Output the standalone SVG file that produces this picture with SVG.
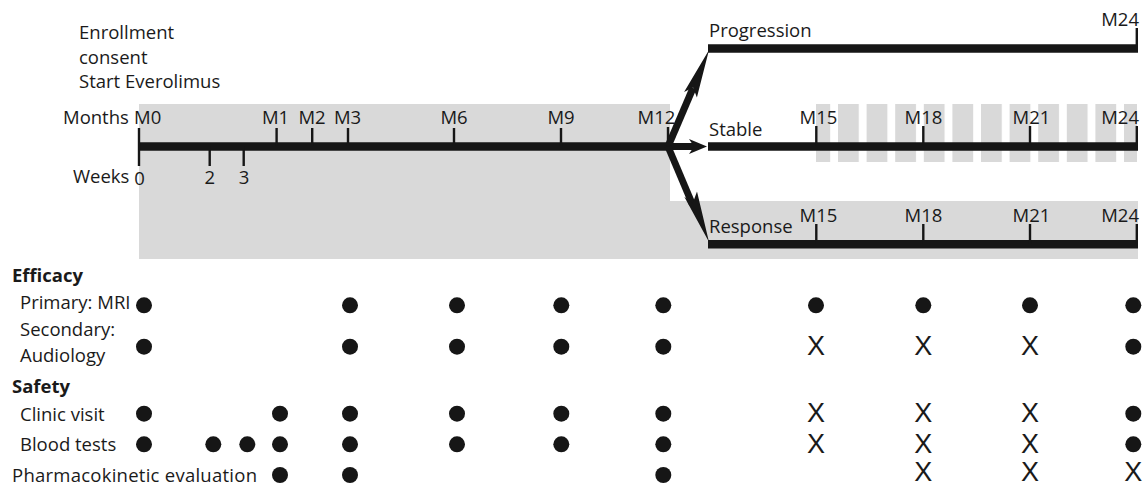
<svg xmlns="http://www.w3.org/2000/svg" width="1145" height="486" viewBox="0 0 1145 486">
  <style>
    text { font-family: "Open Sans", "Liberation Sans", sans-serif; font-size: 18.5px; fill: #1a1a1a; }
    .b { font-weight: bold; }
    .mid { text-anchor: middle; }
    .end { text-anchor: end; }
    .x { font-family: "Liberation Sans", Arial, sans-serif; font-size: 27px; text-anchor: middle; }
    .bar { stroke: #161616; stroke-width: 8.5; fill: none; }
    .tick { stroke: #161616; stroke-width: 2.4; fill: none; }
    .dot { fill: #161616; }
    .shade { fill: #d9d9d9; }
    .arrow { fill: #161616; }
    .shaft { stroke: #161616; stroke-width: 7; fill: none; }
  </style>
  <defs>
    <!-- vertical striped shading for the stable arm -->
    <pattern id="stripes" patternUnits="userSpaceOnUse" x="809.4" y="0" width="28.6" height="486">
      <rect x="0" y="0" width="20.8" height="486" class="shade"/>
    </pattern>
    <clipPath id="stableClip">
      <rect x="816" y="104" width="321" height="58"/>
    </clipPath>
  </defs>

  <rect width="1145" height="486" fill="#ffffff"/>

  <!-- shaded treatment period -->
  <g id="shading">
    <polygon class="shade" points="139,104 670,104 670,201 1138,201 1138,259 139,259"/>
    <rect x="816" y="104" width="321" height="58" fill="url(#stripes)" clip-path="url(#stableClip)"/>
  </g>

  <!-- enrollment note -->
  <g id="enrollment">
    <text x="79" y="39">Enrollment</text>
    <text x="79" y="63.5">consent</text>
    <text x="79" y="88">Start Everolimus</text>
  </g>

  <!-- main timeline M0 to M12 -->
  <g id="timeline">
    <line class="bar" x1="139" y1="146.5" x2="669" y2="146.5"/>
    <line class="tick" x1="139" y1="128" x2="139" y2="166"/>
    <line class="tick" x1="276.6" y1="128" x2="276.6" y2="146"/>
    <line class="tick" x1="312.2" y1="128" x2="312.2" y2="146"/>
    <line class="tick" x1="348" y1="128" x2="348" y2="146"/>
    <line class="tick" x1="454" y1="128" x2="454" y2="146"/>
    <line class="tick" x1="561" y1="128" x2="561" y2="146"/>
    <line class="tick" x1="668" y1="127" x2="668" y2="146"/>
    <line class="tick" x1="209.7" y1="146" x2="209.7" y2="166"/>
    <line class="tick" x1="243.7" y1="146" x2="243.7" y2="166"/>
    <text x="63" y="124">Months</text>
    <text x="134" y="124">M0</text>
    <text class="mid" x="275.5" y="124">M1</text>
    <text class="mid" x="312" y="124">M2</text>
    <text class="mid" x="347.5" y="124">M3</text>
    <text class="mid" x="454" y="124">M6</text>
    <text class="mid" x="561" y="124">M9</text>
    <text x="637.5" y="124">M12</text>
    <text x="73" y="182.5">Weeks</text>
    <text class="mid" x="139.5" y="184.5">0</text>
    <text class="mid" x="209.7" y="184">2</text>
    <text class="mid" x="244" y="184">3</text>
  </g>

  <!-- branch arrows at M12 -->
  <g id="connectors">
    <line class="shaft" x1="668" y1="146.5" x2="693" y2="88"/>
    <polygon class="arrow" points="709,50 696.9,97.6 693.1,87.6 684.1,92.0"/>
    <line class="shaft" x1="668" y1="146.5" x2="695" y2="146.5"/>
    <polygon class="arrow" points="707,146.5 689,154 694,146.5 689,139"/>
    <line class="shaft" x1="668" y1="146.5" x2="692.5" y2="204.5"/>
    <polygon class="arrow" points="709,242 684.3,196.8 692.7,203.3 697.0,191.4"/>
  </g>

  <!-- progression arm -->
  <g id="progression">
    <line class="bar" x1="708" y1="48.5" x2="1138" y2="48.5"/>
    <line class="tick" x1="1136.8" y1="28" x2="1136.8" y2="48"/>
    <text x="709" y="37">Progression</text>
    <text class="end" x="1139" y="26">M24</text>
  </g>

  <!-- stable arm -->
  <g id="stable">
    <line class="bar" x1="708" y1="146.5" x2="1138" y2="146.5"/>
    <line class="tick" x1="816.3" y1="126" x2="816.3" y2="146"/>
    <line class="tick" x1="923.3" y1="126" x2="923.3" y2="146"/>
    <line class="tick" x1="1030" y1="126" x2="1030" y2="146"/>
    <line class="tick" x1="1136.8" y1="126" x2="1136.8" y2="146"/>
    <text x="709" y="136">Stable</text>
    <text class="mid" x="818.5" y="124.3">M15</text>
    <text class="mid" x="923.5" y="124.3">M18</text>
    <text class="mid" x="1031.5" y="124.3">M21</text>
    <text class="end" x="1139" y="124.3">M24</text>
  </g>

  <!-- response arm -->
  <g id="response">
    <line class="bar" x1="708" y1="244.2" x2="1138" y2="244.2"/>
    <line class="tick" x1="816.3" y1="224" x2="816.3" y2="244"/>
    <line class="tick" x1="923.3" y1="224" x2="923.3" y2="244"/>
    <line class="tick" x1="1030" y1="224" x2="1030" y2="244"/>
    <line class="tick" x1="1136.8" y1="224" x2="1136.8" y2="244"/>
    <text x="709" y="233">Response</text>
    <text class="mid" x="818.5" y="221.7">M15</text>
    <text class="mid" x="923.5" y="221.7">M18</text>
    <text class="mid" x="1031.5" y="221.7">M21</text>
    <text class="end" x="1139" y="221.7">M24</text>
  </g>

  <!-- assessment schedule labels -->
  <g id="labels">
    <text class="b" x="12" y="282">Efficacy</text>
    <text x="20" y="309">Primary: MRI</text>
    <text x="20" y="336">Secondary:</text>
    <text x="20" y="362">Audiology</text>
    <text class="b" x="12" y="393">Safety</text>
    <text x="20" y="421">Clinic visit</text>
    <text x="20" y="451">Blood tests</text>
    <text x="12" y="482" textLength="245" lengthAdjust="spacing">Pharmacokinetic evaluation</text>
  </g>

  <!-- MRI -->
  <g id="row-mri">
    <circle class="dot" cx="144" cy="305.3" r="8"/>
    <circle class="dot" cx="350" cy="305.3" r="8"/>
    <circle class="dot" cx="457" cy="305.3" r="8"/>
    <circle class="dot" cx="561.3" cy="305.3" r="8"/>
    <circle class="dot" cx="663.3" cy="305.3" r="8"/>
    <circle class="dot" cx="816" cy="305.3" r="8"/>
    <circle class="dot" cx="923.3" cy="305.3" r="8"/>
    <circle class="dot" cx="1030" cy="305.3" r="8"/>
    <circle class="dot" cx="1133.3" cy="305.3" r="8"/>
  </g>

  <!-- audiology -->
  <g id="row-audiology">
    <circle class="dot" cx="144" cy="346.7" r="8"/>
    <circle class="dot" cx="350" cy="346.7" r="8"/>
    <circle class="dot" cx="457" cy="346.7" r="8"/>
    <circle class="dot" cx="561.3" cy="346.7" r="8"/>
    <circle class="dot" cx="663.3" cy="346.7" r="8"/>
    <text class="x" x="816" y="355">X</text>
    <text class="x" x="923.3" y="355">X</text>
    <text class="x" x="1030" y="355">X</text>
    <circle class="dot" cx="1133.3" cy="346.7" r="8"/>
  </g>

  <!-- clinic visit -->
  <g id="row-clinic">
    <circle class="dot" cx="144" cy="413.7" r="8"/>
    <circle class="dot" cx="280" cy="413.7" r="8"/>
    <circle class="dot" cx="350" cy="413.7" r="8"/>
    <circle class="dot" cx="457" cy="413.7" r="8"/>
    <circle class="dot" cx="561.3" cy="413.7" r="8"/>
    <circle class="dot" cx="663.3" cy="413.7" r="8"/>
    <text class="x" x="816" y="422.3">X</text>
    <text class="x" x="923.3" y="422.3">X</text>
    <text class="x" x="1030" y="422.3">X</text>
    <circle class="dot" cx="1133.3" cy="413.7" r="8"/>
  </g>

  <!-- blood tests -->
  <g id="row-blood">
    <circle class="dot" cx="144" cy="444.3" r="8"/>
    <circle class="dot" cx="213.3" cy="444.3" r="8"/>
    <circle class="dot" cx="247.3" cy="444.3" r="8"/>
    <circle class="dot" cx="280" cy="444.3" r="8"/>
    <circle class="dot" cx="350" cy="444.3" r="8"/>
    <circle class="dot" cx="457" cy="444.3" r="8"/>
    <circle class="dot" cx="561.3" cy="444.3" r="8"/>
    <circle class="dot" cx="663.3" cy="444.3" r="8"/>
    <text class="x" x="816" y="453.3">X</text>
    <text class="x" x="923.3" y="453.3">X</text>
    <text class="x" x="1030" y="453.3">X</text>
    <circle class="dot" cx="1133.3" cy="444.3" r="8"/>
  </g>

  <!-- pharmacokinetics -->
  <g id="row-pk">
    <circle class="dot" cx="280" cy="475" r="8"/>
    <circle class="dot" cx="350" cy="475" r="8"/>
    <circle class="dot" cx="663.3" cy="475" r="8"/>
    <text class="x" x="923.3" y="480.5">X</text>
    <text class="x" x="1030" y="480.5">X</text>
    <text class="x" x="1133.3" y="480.5">X</text>
  </g>
</svg>
